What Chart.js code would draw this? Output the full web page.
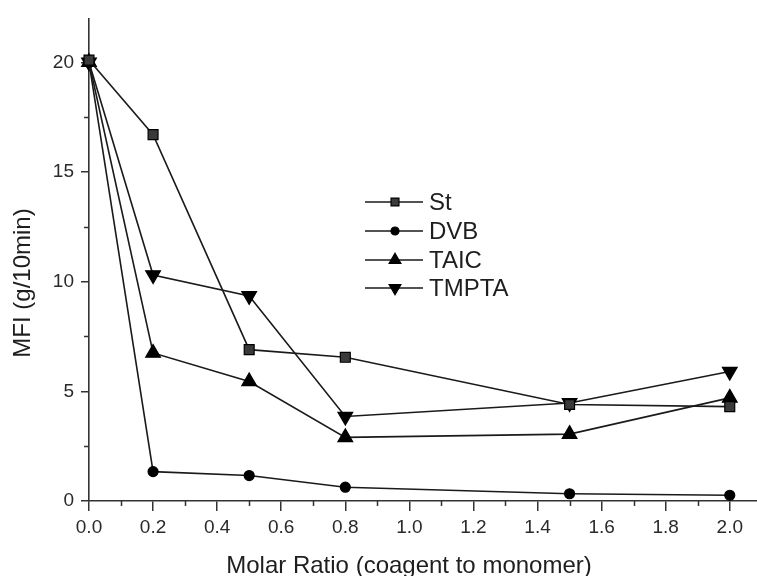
<!DOCTYPE html>
<html>
<head>
<meta charset="utf-8">
<script src="https://cdn.jsdelivr.net/npm/chart.js@4.4.1/dist/chart.umd.min.js"></script>
<style>
  html, body { margin: 0; padding: 0; background: #fff; }
  #wrap { width: 757px; height: 576px; }
</style>
</head>
<body>
<div id="wrap"><canvas id="myChart" width="757" height="576"></canvas></div>
<script>
// molar ratio (coagent to monomer)
const ratios = [0.0, 0.2, 0.5, 0.8, 1.5, 2.0];

// MFI values (g/10min)
const st    = [20.1, 16.7, 6.9, 6.55, 4.4, 4.3];
const dvb   = [20.0, 1.34, 1.16, 0.63, 0.33, 0.26];
const taic  = [20.0, 6.75, 5.45, 2.9, 3.05, 4.7];
const tmpta = [20.0, 10.3, 9.35, 3.85, 4.47, 5.9];

// axis ticks
const xTicks = [0.0, 0.2, 0.4, 0.6, 0.8, 1.0, 1.2, 1.4, 1.6, 1.8, 2.0];
const xMinor = [0.1, 0.3, 0.5, 0.7, 0.9, 1.1, 1.3, 1.5, 1.7, 1.9];
const yTicks = [0, 5, 10, 15, 20];
const yMinor = [2.5, 7.5, 12.5, 17.5];

const ink = '#1a1a1a';
const axisCol = '#333';
const font = '"Liberation Sans", Arial, sans-serif';

function pts(ys) {
  return ratios.map((r, i) => ({ x: r, y: ys[i] }));
}

function series(label, ys, style, radius, rotation, fill) {
  return {
    label: label,
    data: pts(ys),
    borderColor: ink,
    borderWidth: 1.6,
    pointStyle: style,
    pointRadius: radius,
    pointRotation: rotation,
    pointBackgroundColor: fill,
    pointBorderColor: '#000',
    pointBorderWidth: 1.2,
    clip: false,
    tension: 0
  };
}

// the x axis runs to the right edge of the picture (chart.js keeps room for the last label)
const stretchX = {
  id: 'stretchX',
  afterLayout(chart) {
    const x = chart.scales.x;
    chart.chartArea.right = chart.width;
    chart.chartArea.width = chart.width - chart.chartArea.left;
    x.right = chart.width;
    x.width = x.right - x.left;
    x.configure();
  }
};

// minor ticks, axis titles and the in-plot legend
const extras = {
  id: 'extras',
  afterDraw(chart) {
    const ctx = chart.ctx;
    const x = chart.scales.x, y = chart.scales.y;
    const area = chart.chartArea;
    ctx.save();
    ctx.strokeStyle = axisCol;
    ctx.lineWidth = 1.5;
    ctx.beginPath();
    xMinor.forEach(v => {
      const px = Math.round(x.getPixelForValue(v)) + 0.5;
      ctx.moveTo(px, area.bottom);
      ctx.lineTo(px, area.bottom + 5);
    });
    yMinor.forEach(v => {
      const py = Math.round(y.getPixelForValue(v)) + 0.5;
      ctx.moveTo(area.left, py);
      ctx.lineTo(area.left - 5, py);
    });
    ctx.stroke();

    // axis titles
    ctx.fillStyle = '#1e1e1e';
    ctx.font = '24px ' + font;
    ctx.textAlign = 'center';
    ctx.textBaseline = 'alphabetic';
    ctx.fillText('Molar Ratio (coagent to monomer)', 409, 573);
    ctx.save();
    ctx.translate(30, 283);
    ctx.rotate(-Math.PI / 2);
    ctx.fillText('MFI (g/10min)', 0, 0);
    ctx.restore();

    // legend
    const rows = [202, 231, 260, 288];
    ctx.font = '24px ' + font;
    ctx.textAlign = 'left';
    ctx.textBaseline = 'middle';
    chart.data.datasets.forEach((ds, i) => {
      const ly = rows[i];
      ctx.strokeStyle = ink;
      ctx.lineWidth = 1.6;
      ctx.beginPath();
      ctx.moveTo(365, ly);
      ctx.lineTo(423, ly);
      ctx.stroke();
      ctx.fillStyle = ds.pointBackgroundColor;
      ctx.strokeStyle = '#000';
      ctx.lineWidth = 1.2;
      Chart.helpers.drawPoint(ctx, {
        pointStyle: ds.pointStyle,
        rotation: ds.pointRotation,
        radius: ds.pointRadius * 0.8,
        borderWidth: 1.2
      }, 395, ly);
      ctx.fillStyle = '#1e1e1e';
      ctx.fillText(ds.label, 429, ly + 1);
    });
    ctx.restore();
  }
};

const ctx = document.getElementById('myChart').getContext('2d');

const chart = new Chart(ctx, {
  type: 'line',
  data: {
    datasets: [
      series('St', st, 'rect', 7, 0, '#3a3a3a'),
      series('DVB', dvb, 'circle', 5, 0, '#000'),
      series('TAIC', taic, 'triangle', 8.5, 0, '#000'),
      series('TMPTA', tmpta, 'triangle', 8.5, 180, '#000')
    ]
  },
  plugins: [stretchX, extras],
  options: {
    responsive: false,
    animation: false,
    events: [],
    layout: { padding: { top: 13, right: 0, left: 0, bottom: 0 } },
    plugins: {
      legend: { display: false },
      tooltip: { enabled: false }
    },
    scales: {
      x: {
        type: 'linear',
        min: 0,
        max: 2.085,
        afterBuildTicks: s => { s.ticks = xTicks.map(v => ({ value: v })); },
        afterFit: s => { s.height = 75; },
        ticks: {
          padding: 5,
          color: '#2a2a2a',
          font: { family: font, size: 19 },
          maxRotation: 0,
          callback: v => Number(v).toFixed(1)
        },
        grid: { drawOnChartArea: false, drawTicks: true, tickLength: 10, color: axisCol, lineWidth: 1.5 },
        border: { display: true, color: axisCol, width: 1.6 }
      },
      y: {
        type: 'linear',
        min: 0,
        max: 22,
        afterBuildTicks: s => { s.ticks = yTicks.map(v => ({ value: v })); },
        afterFit: s => { s.width = 89; },
        ticks: {
          padding: 7,
          color: '#2a2a2a',
          font: { family: font, size: 19 },
          callback: v => String(v)
        },
        grid: { drawOnChartArea: false, drawTicks: true, tickLength: 8, color: axisCol, lineWidth: 1.5 },
        border: { display: true, color: axisCol, width: 1.6 }
      }
    }
  }
});
</script>
</body>
</html>
